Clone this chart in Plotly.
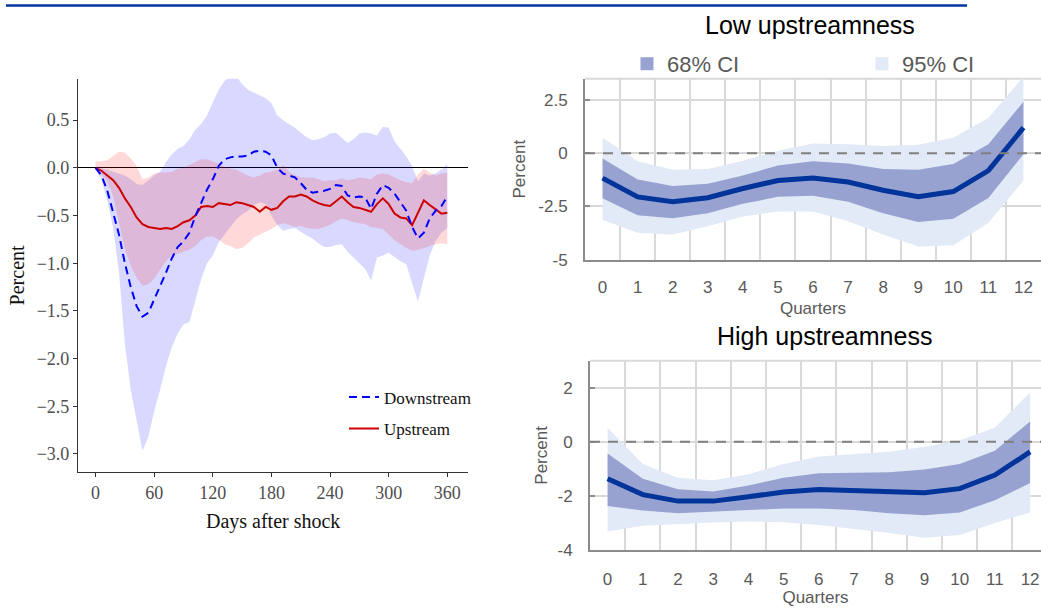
import plotly.graph_objects as go

W, H = 1041, 608

# ---------------- Left panel: daily responses ----------------
days = list(range(0, 361, 6))

downstream = [0.00, -0.08, -0.24, -0.46, -0.70, -1.00, -1.25, -1.45, -1.56, -1.52,
              -1.37, -1.24, -1.10, -0.95, -0.83, -0.77, -0.68, -0.51, -0.37, -0.23,
              -0.12, 0.02, 0.09, 0.11, 0.12, 0.12, 0.13, 0.17, 0.18, 0.17,
              0.13, 0.00, -0.06, -0.08, -0.10, -0.16, -0.23, -0.26, -0.25, -0.24,
              -0.22, -0.18, -0.19, -0.29, -0.31, -0.30, -0.31, -0.43, -0.27, -0.18,
              -0.21, -0.27, -0.36, -0.45, -0.62, -0.74, -0.68, -0.53, -0.45, -0.40,
              -0.30]
downstream_hi = [0.02, 0.00, -0.02, -0.04, -0.06, -0.08, -0.12, -0.17, -0.18, -0.13,
                 -0.08, -0.04, 0.06, 0.14, 0.20, 0.23, 0.30, 0.40, 0.46, 0.55,
                 0.68, 0.82, 0.91, 0.96, 0.96, 0.88, 0.82, 0.79, 0.76, 0.73,
                 0.68, 0.55, 0.50, 0.46, 0.42, 0.37, 0.32, 0.29, 0.30, 0.32,
                 0.36, 0.37, 0.32, 0.26, 0.30, 0.36, 0.37, 0.36, 0.34, 0.43,
                 0.42, 0.28, 0.20, 0.12, 0.02, -0.14, -0.06, -0.08, -0.06, -0.02,
                 0.04]
downstream_lo = [-0.02, -0.12, -0.35, -0.63, -1.10, -1.85, -2.33, -2.65, -2.97, -2.82,
                 -2.55, -2.33, -2.08, -1.88, -1.74, -1.64, -1.62, -1.40, -1.17, -1.00,
                 -0.92, -0.78, -0.70, -0.62, -0.54, -0.49, -0.45, -0.39, -0.36, -0.38,
                 -0.50, -0.60, -0.66, -0.64, -0.63, -0.67, -0.71, -0.74, -0.79, -0.83,
                 -0.83, -0.81, -0.80, -0.88, -0.94, -1.00, -1.06, -1.18, -0.94, -0.92,
                 -0.89, -0.93, -0.98, -1.01, -1.21, -1.40, -1.15, -0.92, -0.77, -0.68,
                 -0.63]

upstream = [0.00, -0.03, -0.08, -0.13, -0.21, -0.32, -0.41, -0.52, -0.59, -0.62,
            -0.63, -0.64, -0.63, -0.64, -0.61, -0.57, -0.55, -0.50, -0.41, -0.40,
            -0.41, -0.37, -0.38, -0.39, -0.36, -0.37, -0.39, -0.41, -0.46, -0.41,
            -0.44, -0.42, -0.35, -0.30, -0.30, -0.28, -0.30, -0.34, -0.37, -0.39,
            -0.40, -0.35, -0.30, -0.36, -0.41, -0.42, -0.44, -0.46, -0.38, -0.32,
            -0.38, -0.48, -0.52, -0.53, -0.60, -0.47, -0.34, -0.39, -0.44, -0.48,
            -0.47]
upstream_hi = [0.07, 0.07, 0.08, 0.13, 0.17, 0.16, 0.10, 0.02, -0.12, -0.10,
               -0.06, -0.05, -0.05, -0.04, -0.01, 0.00, 0.03, 0.06, 0.09, 0.09,
               0.07, 0.04, 0.01, -0.01, -0.02, -0.05, -0.08, -0.10, -0.08, -0.05,
               -0.04, -0.02, 0.03, -0.04, -0.07, -0.10, -0.10, -0.10, -0.12, -0.14,
               -0.13, -0.13, -0.11, -0.13, -0.12, -0.10, -0.11, -0.12, -0.07, -0.06,
               -0.07, -0.10, -0.13, -0.15, -0.16, -0.07, -0.01, -0.05, -0.08, -0.06,
               -0.05]
upstream_lo = [-0.02, -0.07, -0.14, -0.30, -0.58, -0.85, -1.03, -1.15, -1.24, -1.22,
               -1.16, -1.07, -0.98, -0.92, -0.90, -0.88, -0.86, -0.82, -0.76, -0.72,
               -0.72, -0.75, -0.80, -0.82, -0.85, -0.84, -0.79, -0.73, -0.70, -0.67,
               -0.64, -0.60, -0.58, -0.60, -0.62, -0.61, -0.63, -0.64, -0.64, -0.62,
               -0.60, -0.56, -0.53, -0.55, -0.57, -0.58, -0.59, -0.62, -0.63, -0.64,
               -0.70, -0.76, -0.80, -0.84, -0.87, -0.86, -0.84, -0.82, -0.80, -0.79,
               -0.80]

# ---------------- Right panels: quarterly responses ----------------
quarters = [str(q) for q in range(13)]

low_irf = [-1.17, -2.05, -2.28, -2.09, -1.66, -1.28, -1.17, -1.35, -1.74, -2.04, -1.80, -0.82, 1.20]
low_68_hi = [-0.25, -1.23, -1.54, -1.43, -1.05, -0.58, -0.38, -0.48, -0.74, -0.78, -0.51, 0.42, 2.42]
low_68_lo = [-2.12, -2.92, -3.05, -2.82, -2.38, -2.05, -2.00, -2.28, -2.82, -3.23, -3.08, -2.10, -0.05]
low_95_hi = [0.72, -0.38, -0.78, -0.74, -0.35, 0.11, 0.45, 0.42, 0.34, 0.40, 0.73, 1.65, 3.60]
low_95_lo = [-3.12, -3.74, -3.82, -3.43, -2.97, -2.74, -2.74, -3.20, -3.82, -4.38, -4.32, -3.28, -1.28]

high_irf = [-1.36, -1.95, -2.19, -2.19, -2.03, -1.85, -1.76, -1.81, -1.87, -1.88, -1.73, -1.23, -0.37]
high_68_hi = [-0.43, -1.36, -1.75, -1.83, -1.61, -1.33, -1.16, -1.14, -1.12, -1.02, -0.82, -0.33, 0.75]
high_68_lo = [-2.37, -2.54, -2.64, -2.58, -2.52, -2.46, -2.46, -2.52, -2.64, -2.71, -2.61, -2.16, -1.52]
high_95_hi = [0.52, -0.82, -1.33, -1.42, -1.20, -0.82, -0.54, -0.45, -0.37, -0.18, 0.05, 0.53, 1.82]
high_95_lo = [-3.31, -3.10, -3.04, -2.98, -2.94, -2.97, -3.07, -3.21, -3.37, -3.54, -3.44, -3.00, -2.61]

low_ytick_vals = [-5, -2.5, 0, 2.5]
low_ytick_text = ["-5", "-2.5", "0", "2.5"]
high_ytick_vals = [-4, -2, 0, 2]
high_ytick_text = ["-4", "-2", "0", "2"]

# colours
BLUE_BAND = "rgba(0,0,255,0.15)"
RED_BAND = "rgba(255,0,0,0.15)"
CI68 = "#98A2D0"
CI95 = "#E2E9F7"
IRF = "#00349A"
GRID = "#D9D9D9"
AXIS_R = "#8C8C8C"
TXT_R = "#595959"

SERIF = "Liberation Serif"
SANS = "Liberation Sans"


def band(x, lo, hi, color, xa, ya):
    return go.Scatter(x=list(x) + list(x)[::-1], y=list(hi) + list(lo)[::-1],
                      fill="toself", fillcolor=color, mode="lines",
                      line=dict(width=0), hoverinfo="skip", showlegend=False,
                      xaxis=xa, yaxis=ya)


fig = go.Figure()

# left panel
fig.add_trace(band(days, downstream_lo, downstream_hi, BLUE_BAND, "x", "y"))
fig.add_trace(band(days, upstream_lo, upstream_hi, RED_BAND, "x", "y"))
fig.add_trace(go.Scatter(x=days, y=upstream, mode="lines", name="Upstream",
                         line=dict(color="#CC0000", width=2), legend="legend2",
                         xaxis="x", yaxis="y"))
fig.add_trace(go.Scatter(x=days, y=downstream, mode="lines", name="Downstream",
                         line=dict(color="#0000FF", width=2, dash="8px,5px"),
                         legend="legend", xaxis="x", yaxis="y"))

# right top
fig.add_trace(band(quarters, low_95_lo, low_95_hi, CI95, "x2", "y2"))
fig.add_trace(band(quarters, low_68_lo, low_68_hi, CI68, "x2", "y2"))
fig.add_trace(go.Scatter(x=quarters, y=low_irf, mode="lines", showlegend=False,
                         line=dict(color=IRF, width=5), xaxis="x2", yaxis="y2"))
# right bottom
fig.add_trace(band(quarters, high_95_lo, high_95_hi, CI95, "x3", "y3"))
fig.add_trace(band(quarters, high_68_lo, high_68_hi, CI68, "x3", "y3"))
fig.add_trace(go.Scatter(x=quarters, y=high_irf, mode="lines", showlegend=False,
                         line=dict(color=IRF, width=5), xaxis="x3", yaxis="y3"))

# legend swatches for CI bands
fig.add_trace(go.Scatter(x=[None], y=[None], mode="markers", name="68% CI",
                         marker=dict(symbol="square", size=13, color=CI68),
                         legend="legend3", xaxis="x2", yaxis="y2"))
fig.add_trace(go.Scatter(x=[None], y=[None], mode="markers", name="95% CI",
                         marker=dict(symbol="square", size=13, color=CI95),
                         legend="legend4", xaxis="x2", yaxis="y2"))


def px_x(p):
    return p / W


def px_y(p):
    return 1 - p / H


left_tick = dict(family=SERIF, size=18, color="#4D4D4D")
right_tick = dict(family=SANS, size=17, color=TXT_R)

fig.update_layout(
    width=W, height=H, autosize=False,
    margin=dict(l=0, r=0, t=0, b=0),
    paper_bgcolor="white", plot_bgcolor="rgba(0,0,0,0)",
    xaxis=dict(domain=[px_x(78), px_x(468.3)], range=[-18, 381.5], anchor="y",
               tick0=0, dtick=60, ticks="outside", ticklen=4, tickcolor="#333",
               showline=True, linecolor="#333", linewidth=1.2,
               showgrid=False, zeroline=False, tickfont=left_tick,
               title=dict(text="Days after shock", standoff=12,
                          font=dict(family=SERIF, size=20, color="#111"))),
    yaxis=dict(domain=[px_y(480), px_y(80)], range=[-3.19, 0.935], anchor="x",
               tick0=0, dtick=0.5, tickformat=".1f", ticks="outside", ticklen=4,
               tickcolor="#333", showline=True, linecolor="#333", linewidth=1.2,
               showgrid=False, zeroline=True, zerolinecolor="black",
               zerolinewidth=1, tickfont=left_tick,
               title=dict(text="Percent", standoff=6,
                          font=dict(family=SERIF, size=20, color="#111"))),
    xaxis2=dict(type="category", domain=[px_x(585), 1.0], range=[-0.5, 12.5],
                anchor="y2",
                tickson="boundaries", ticks="", showgrid=True, gridcolor=GRID,
                gridwidth=2, showline=True, linecolor=AXIS_R, linewidth=2,
                zeroline=False, tickfont=right_tick, ticklabelstandoff=11,
                title=dict(text="Quarters", standoff=6,
                           font=dict(family=SANS, size=17, color=TXT_R))),
    yaxis2=dict(domain=[px_y(264), px_y(80)], range=[-5, 3.5], anchor="x2",
                tickvals=low_ytick_vals, ticktext=low_ytick_text,
                ticks="inside", ticklen=5, tickcolor=AXIS_R, tickwidth=2,
                showgrid=True, gridcolor=GRID, gridwidth=2, zeroline=False,
                showline=True, linecolor=AXIS_R, linewidth=2,
                tickfont=right_tick, ticklabelstandoff=12,
                title=dict(text="Percent", standoff=8,
                           font=dict(family=SANS, size=17, color=TXT_R))),
    xaxis3=dict(type="category", domain=[px_x(590), 1.0], range=[-0.5, 12.31],
                anchor="y3",
                tickson="boundaries", ticks="", showgrid=True, gridcolor=GRID,
                gridwidth=2, showline=True, linecolor=AXIS_R, linewidth=2,
                zeroline=False, tickfont=right_tick, ticklabelstandoff=12,
                title=dict(text="Quarters", standoff=3,
                           font=dict(family=SANS, size=17, color=TXT_R))),
    yaxis3=dict(domain=[px_y(559.3), px_y(366.7)], range=[-4, 3], anchor="x3",
                tickvals=high_ytick_vals, ticktext=high_ytick_text,
                ticks="inside", ticklen=5, tickcolor=AXIS_R, tickwidth=2,
                showgrid=True, gridcolor=GRID, gridwidth=2, zeroline=False,
                showline=True, linecolor=AXIS_R, linewidth=2,
                tickfont=right_tick, ticklabelstandoff=12,
                title=dict(text="Percent", standoff=6,
                           font=dict(family=SANS, size=17, color=TXT_R))),
    legend=dict(x=px_x(344), y=px_y(404), xanchor="left", yanchor="middle",
                bgcolor="rgba(0,0,0,0)", font=dict(family=SERIF, size=17, color="#111")),
    legend2=dict(x=px_x(344), y=px_y(436), xanchor="left", yanchor="middle",
                 bgcolor="rgba(0,0,0,0)", font=dict(family=SERIF, size=17, color="#111")),
    legend3=dict(x=px_x(627), y=px_y(65), xanchor="left", yanchor="middle",
                 bgcolor="rgba(0,0,0,0)", font=dict(family=SANS, size=22, color=TXT_R)),
    legend4=dict(x=px_x(862), y=px_y(65), xanchor="left", yanchor="middle",
                 bgcolor="rgba(0,0,0,0)", font=dict(family=SANS, size=22, color=TXT_R)),
    annotations=[
        dict(text="Low upstreamness", x=px_x(809.5), y=px_y(25), xref="paper", yref="paper",
             showarrow=False, xanchor="center", yanchor="middle",
             font=dict(family=SANS, size=25, color="black")),
        dict(text="High upstreamness", x=px_x(824.7), y=px_y(342), xref="paper", yref="paper",
             showarrow=False, xanchor="center", yanchor="middle",
             font=dict(family=SANS, size=25, color="black")),
    ],
    shapes=[
        dict(type="line", xref="paper", yref="paper", x0=px_x(6), x1=px_x(967),
             y0=px_y(5.5), y1=px_y(5.5), line=dict(color="#0033A0", width=2.5)),
        dict(type="line", xref="x2 domain", yref="y2", x0=0, x1=1, y0=0, y1=0,
             line=dict(color="#7F7F7F", width=2, dash="10px,8px"), layer="above"),
        dict(type="line", xref="x3 domain", yref="y3", x0=0, x1=1, y0=0, y1=0,
             line=dict(color="#7F7F7F", width=2, dash="10px,8px"), layer="above"),
        dict(type="line", xref="x2 domain", yref="y2 domain", x0=0, x1=1, y0=1, y1=1,
             line=dict(color=GRID, width=2), layer="below"),
        dict(type="line", xref="x3 domain", yref="y3 domain", x0=0, x1=1, y0=1, y1=1,
             line=dict(color=GRID, width=2), layer="below"),
    ],
)

fig.write_html("out.html")
